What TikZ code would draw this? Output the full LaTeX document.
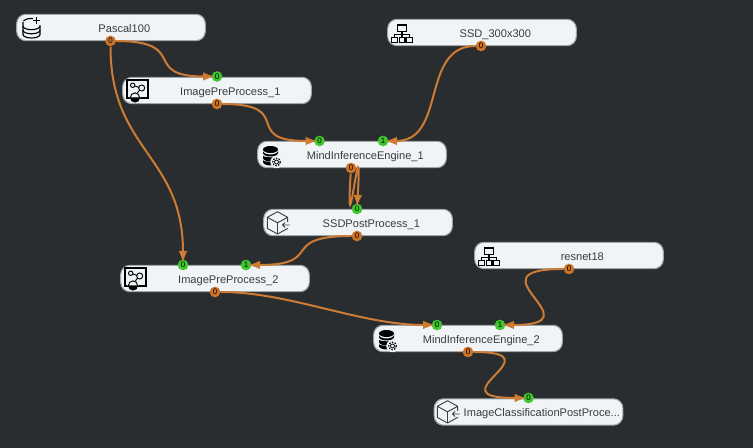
\documentclass[tikz,border=0pt]{standalone}
\usepackage{fontspec}
\setmainfont{Liberation Sans}
\usetikzlibrary{arrows.meta}
\definecolor{bgc}{HTML}{2A2D30}
\definecolor{boxc}{HTML}{F0F4F6}
\definecolor{boxl}{HTML}{A0A4A6}
\definecolor{wire}{HTML}{CE7B34}
\definecolor{pout}{HTML}{CC7429}
\definecolor{pin}{HTML}{3EC72E}
\definecolor{txt}{HTML}{3A3C3E}
\newcommand{\boxlabel}[1]{\hspace{20pt}\raisebox{-1.7pt}[6pt][2pt]{#1}}
\tikzset{
 x=.75pt,y=-.75pt,
 nodebox/.style={draw=boxl,fill=boxc,line width=.8pt,rounded corners=7pt,minimum width=141.5pt,minimum height=19.8pt,inner sep=0pt,text=txt,font=\fontsize{8.3}{10}\selectfont},
 portbase/.style={circle,minimum size=8pt,inner sep=0pt,text=black,font=\fontsize{6}{6}\selectfont},
 outport/.style={portbase,fill=pout},
 inport/.style={portbase,fill=pin},
 edgeline/.style={draw=wire,line width=1.5pt,-{Latex[length=9pt,width=6.5pt]},shorten >=1.5pt},
 dbplus/.pic={
  \draw[line width=.85pt,black] (24,8.5) arc (0:-160:8.5 and 3.5) (7,8.5) -- (7,21) arc (180:0:8.5 and 3.5) -- (24,12);
  \draw[line width=.85pt,black] (7,12.7) arc (180:0:8.5 and 3.5) (7,16.8) arc (180:0:8.5 and 3.5);
  \draw[fill=boxc,draw=none] (17,3) rectangle (25,10.5);
  \draw[line width=.8pt,black] (20.7,4) -- (20.7,10.5) (17.2,7.2) -- (24.2,7.2);
 },
 graphicon/.pic={
  \draw[line width=.85pt,black] (5,3) rectangle (26,21);
  \draw[line width=.7pt,black] (10.7,8.3) circle (2.2) (19.7,11) circle (3) (12.7,9) -- (16.8,10.3) (17.5,13.2) -- (15,16.5);
  \fill[boxc] (13,20.5) circle (5.4);
  \draw[line width=.7pt,black] (13,20.5) circle (4.6);
  \fill[black] (8.4,20.5) arc (180:0:4.6) -- cycle;
 },
 dbgear/.pic={
  \fill[black] (13.5,8.5) ellipse (7.5 and 3.5);
  \fill[black] (6,10) -- (6,12) arc (180:0:7.5 and 3.5) -- (21,10) arc (0:180:7.5 and 3.5) -- cycle;
  \fill[black] (6,14.5) -- (6,17) arc (180:0:7.5 and 3.5) -- (21,14.5) arc (0:180:7.5 and 1.8) -- cycle;
  \fill[black] (6,19) -- (6,21) arc (180:0:7.5 and 3.5) -- (21,19) arc (0:180:7.5 and 1.8) -- cycle;
  \fill[boxc] (19.5,21) circle (6.2);
  \draw[line width=.6pt,black] (19.5,21) circle (2);
  \draw[line width=.9pt,black,dash pattern=on 1.1pt off 1pt] (19.5,21) circle (3.8);
 },
 neticon/.pic={
  \draw[line width=.8pt,black] (10.3,6) rectangle (19.7,12.7) (15,12.7) -- (15,18.3) (7.5,18.3) -- (7.5,15.5) -- (22.5,15.5) -- (22.5,18.3);
  \draw[line width=.8pt,black] (4.7,18.3) rectangle (10.3,23.3) (12.3,18.3) rectangle (18,23.3) (19.7,18.3) rectangle (25.3,23.3);
 },
 cubeicon/.pic={
  \draw[line width=.7pt,black!75,line join=round] (14.5,2.7) -- (24.7,8.3) -- (24.7,19.4) -- (14.5,25) -- (4.3,19.4) -- (4.3,8.3) -- cycle (4.3,8.3) -- (14.5,13.8) -- (24.7,8.3) (14.5,13.8) -- (14.5,25);
  \fill[boxc] (18,13) rectangle (27,19.5);
  \draw[line width=.7pt,black!75,line join=round] (26.5,16) -- (19.5,16) (22,13.5) -- (19.5,16) -- (22,18.5);
 },
}
\begin{document}
\begin{tikzpicture}
\useasboundingbox[fill=bgc] (0,0) rectangle (753,448);
% boxes
\node[nodebox] (pascal) at (111,27.5) {\boxlabel{Pascal100}};
\node[nodebox] (ipp1) at (217,90.5) {\boxlabel{ImagePreProcess\_1}};
\node[nodebox] (mie1) at (352,154.5) {\boxlabel{MindInferenceEngine\_1}};
\node[nodebox] (ssdp) at (358,222.5) {\boxlabel{SSDPostProcess\_1}};
\node[nodebox] (ipp2) at (215,278.5) {\boxlabel{ImagePreProcess\_2}};
\node[nodebox] (ssd) at (482,32.5) {\boxlabel{SSD\_300x300}};
\node[nodebox] (resnet) at (569,255.5) {\boxlabel{resnet18}};
\node[nodebox] (mie2) at (468,338.5) {\boxlabel{MindInferenceEngine\_2}};
\node[nodebox] (icpp) at (528.5,412) {\boxlabel{ImageClassificationPostProce...}};
% icons
\pic at (16,13.5) {dbplus};
\pic at (122,77) {graphicon};
\pic at (120,265) {graphicon};
\pic at (257,141) {dbgear};
\pic at (373,325) {dbgear};
\pic at (387,19) {neticon};
\pic at (474,242) {neticon};
\pic at (263,209) {cubeicon};
\pic at (433,398) {cubeicon};
% ports
\node[outport] (pascalo) at (110.5,41) {0};
\node[inport] (ipp1i) at (217,76.5) {0};
\node[outport] (ipp1o) at (217,104) {0};
\node[inport] (mie1a) at (319.5,141) {0};
\node[inport] (mie1b) at (383,141) {1};
\node[outport] (mie1o) at (351,168) {0};
\node[inport] (ssdpi) at (357,209) {0};
\node[outport] (ssdpo) at (357,236) {0};
\node[inport] (ipp2a) at (183,265) {0};
\node[inport] (ipp2b) at (246,265) {1};
\node[outport] (ipp2o) at (215,292) {0};
\node[outport] (ssdo) at (481,46) {0};
\node[outport] (resneto) at (569,269) {0};
\node[inport] (mie2a) at (437,325) {0};
\node[inport] (mie2b) at (500,325) {1};
\node[outport] (mie2o) at (468,352) {0};
\node[inport] (icppi) at (528.5,398) {0};
% connectors
\draw[edgeline] (pascalo) .. controls +(80,0) and +(-77,0) .. (ipp1i.center);
\draw[edgeline] (pascalo) .. controls +(0,110) and +(0,-110) .. (ipp2a.center);
\draw[edgeline] (ipp1o) .. controls +(80,0) and +(-80,0) .. (mie1a.center);
\draw[edgeline] (ssdo) .. controls +(-61,0) and +(64,0) .. (mie1b.center);
\draw[edgeline] (mie1o) .. controls +(-6,102) and +(6,-105) .. (ssdpi.center);
\draw[edgeline] (ssdpo) .. controls +(-80,0) and +(80,0) .. (ipp2b.center);
\draw[edgeline] (ipp2o) .. controls +(75,0) and +(-77,0) .. (mie2a.center);
\draw[edgeline] (resneto) .. controls +(-104,0) and +(100,0) .. (mie2b.center);
\draw[edgeline] (mie2o) .. controls +(92,0) and +(-98,0) .. (icppi.center);
\end{tikzpicture}
\end{document}
